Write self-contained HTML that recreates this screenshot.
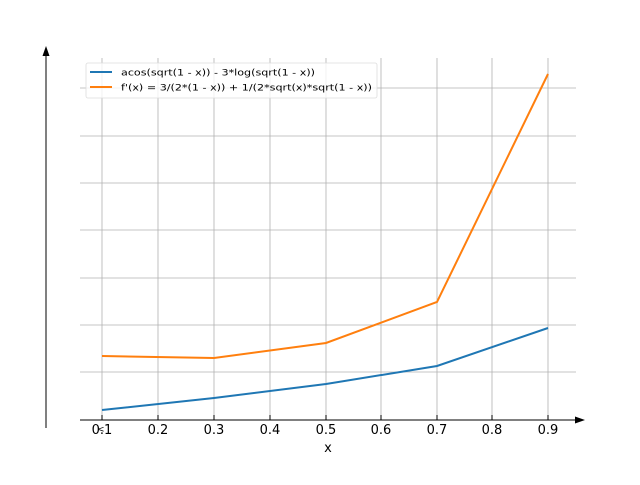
<!DOCTYPE html>
<html><head><style>body{margin:0;background:#fff}</style></head><body>
<svg width="640" height="480" xmlns="http://www.w3.org/2000/svg" font-family="DejaVu Sans, Liberation Sans, sans-serif">
<g stroke="#b0b0b0" stroke-width="0.8">
<line x1="102" y1="58" x2="102" y2="420"/><line x1="158" y1="58" x2="158" y2="420"/><line x1="214" y1="58" x2="214" y2="420"/><line x1="270" y1="58" x2="270" y2="420"/><line x1="326" y1="58" x2="326" y2="420"/><line x1="381" y1="58" x2="381" y2="420"/><line x1="437" y1="58" x2="437" y2="420"/><line x1="492" y1="58" x2="492" y2="420"/><line x1="548" y1="58" x2="548" y2="420"/>
<line x1="80" y1="88" x2="576" y2="88"/><line x1="80" y1="136" x2="576" y2="136"/><line x1="80" y1="183" x2="576" y2="183"/><line x1="80" y1="230" x2="576" y2="230"/><line x1="80" y1="278" x2="576" y2="278"/><line x1="80" y1="325" x2="576" y2="325"/><line x1="80" y1="372" x2="576" y2="372"/>
</g>
<g stroke="#000" stroke-width="1">
<line x1="46" y1="52" x2="46" y2="428"/>
<line x1="80" y1="420" x2="580" y2="420"/>
<line x1="102" y1="415" x2="102" y2="420"/><line x1="158" y1="415" x2="158" y2="420"/><line x1="214" y1="415" x2="214" y2="420"/><line x1="270" y1="415" x2="270" y2="420"/><line x1="326" y1="415" x2="326" y2="420"/><line x1="381" y1="415" x2="381" y2="420"/><line x1="437" y1="415" x2="437" y2="420"/><line x1="492" y1="415" x2="492" y2="420"/><line x1="548" y1="415" x2="548" y2="420"/>
</g>
<polygon points="46,46 42.5,56 49.5,56" fill="#000"/>
<polygon points="585,420 575,416.5 575,423.5" fill="#000"/>
<g font-size="13" text-anchor="middle" fill="#000">
<text x="102" y="434">0.1</text><text x="158" y="434">0.2</text><text x="214" y="434">0.3</text><text x="270" y="434">0.4</text><text x="326" y="434">0.5</text><text x="381" y="434">0.6</text><text x="437" y="434">0.7</text><text x="492" y="434">0.8</text><text x="548" y="434">0.9</text>
<text x="328" y="452">x</text>
</g>
<text x="97" y="432" font-size="9">&lt;</text>
<polyline points="102,410 214,398 326,384 437,366 548,328" fill="none" stroke="#1f77b4" stroke-width="2"/>
<polyline points="102,356 214,358 326,343 437,302 548,74" fill="none" stroke="#ff7f0e" stroke-width="2"/>
<rect x="86" y="63" width="291" height="35" rx="2" fill="#fff" fill-opacity="0.8" stroke="#ddd" stroke-width="0.8"/>
<line x1="90" y1="72" x2="112" y2="72" stroke="#1f77b4" stroke-width="2"/>
<line x1="90" y1="87" x2="112" y2="87" stroke="#ff7f0e" stroke-width="2"/>
<g font-size="8.5" fill="#000">
<text x="121" y="75.5" textLength="194" lengthAdjust="spacingAndGlyphs">acos(sqrt(1 - x)) - 3*log(sqrt(1 - x))</text>
<text x="121" y="90.5" textLength="251" lengthAdjust="spacingAndGlyphs">f'(x) = 3/(2*(1 - x)) + 1/(2*sqrt(x)*sqrt(1 - x))</text>
</g>
</svg>
</body></html>
